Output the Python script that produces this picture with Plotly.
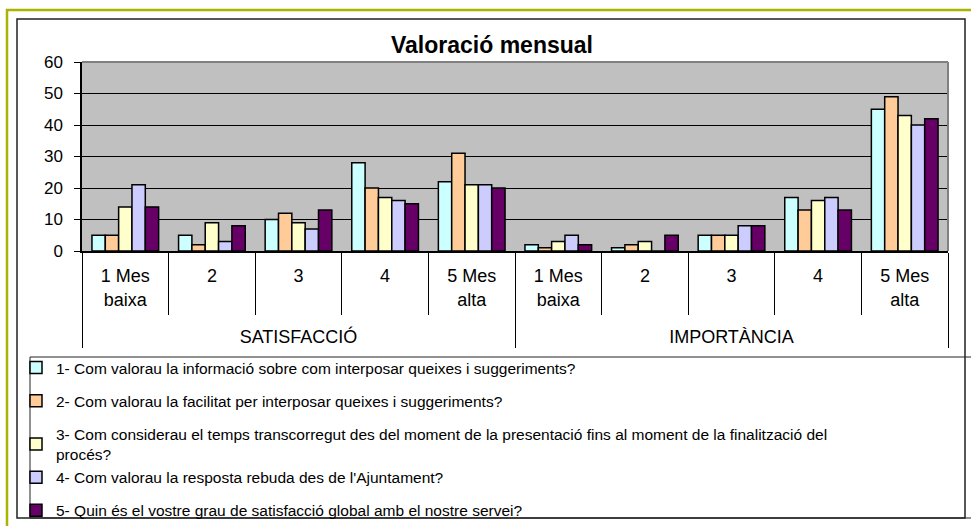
import plotly.graph_objects as go

# ---- data ----
groups = ["SATISFACCIÓ"] * 5 + ["IMPORTÀNCIA"] * 5
levels = ["1 Mes<br>baixa", "2", "3", "4", "5 Mes<br>alta"] * 2

series_names = [
    "1- Com valorau la informació sobre com interposar queixes i suggeriments?",
    "2- Com valorau la facilitat per interposar queixes i suggeriments?",
    "3- Com considerau el temps transcorregut des del moment de la presentació fins al moment de la finalització del<br>procés?",
    "4- Com valorau la resposta rebuda des de l'Ajuntament?",
    "5- Quin és el vostre grau de satisfacció global amb el nostre servei?",
]
q1 = [5, 5, 10, 28, 22, 2, 1, 5, 17, 45]
q2 = [5, 2, 12, 20, 31, 1, 2, 5, 13, 49]
q3 = [14, 9, 9, 17, 21, 3, 3, 5, 16, 43]
q4 = [21, 3, 7, 16, 21, 5, 0, 8, 17, 40]
q5 = [14, 8, 13, 15, 20, 2, 5, 8, 13, 42]
series_values = [q1, q2, q3, q4, q5]
colors = ["#CCFFFF", "#FFCC99", "#FFFFCC", "#CCCCFF", "#660066"]
legend_groups = ["g1", "g2", "g3", "g3", "g5"]

# ---- geometry (pixels) ----
W, H = 971, 526
PL, PR, PT, PB = 82, 948, 62, 251
FONT = "Liberation Sans, Arial, sans-serif"


def fx(px):
    return (px - PL) / (PR - PL)


def fy(py):
    return (PB - py) / (PB - PT)


# inner labels get an extra blank line so the group labels sit lower
levels_shown = [lv + "<br>\u00a0" for lv in levels]

fig = go.Figure()
for name, vals, col, lg in zip(series_names, series_values, colors, legend_groups):
    fig.add_trace(go.Bar(
        x=[groups, levels_shown], y=vals, name=name, legendgroup=lg,
        marker=dict(color=col, line=dict(color="black", width=1.5)),
    ))

shapes = [
    # outer green frame
    dict(type="rect", xref="paper", yref="paper", x0=fx(7), x1=fx(990), y0=fy(545), y1=fy(10),
         line=dict(color="#A9B400", width=2.5), layer="below"),
    # chart frame
    dict(type="rect", xref="paper", yref="paper", x0=fx(17), x1=fx(965), y0=fy(518), y1=fy(19),
         line=dict(color="#222222", width=1.5), layer="below"),
    # legend box
    dict(type="rect", xref="paper", yref="paper", x0=fx(30), x1=fx(990), y0=fy(518), y1=fy(357),
         line=dict(color="#222222", width=1), layer="below"),
    # plot area grey border top/right
    dict(type="line", xref="paper", yref="paper", x0=0, x1=1, y0=1, y1=1,
         line=dict(color="#808080", width=2), layer="above"),
    dict(type="line", xref="paper", yref="paper", x0=1, x1=1, y0=0, y1=1,
         line=dict(color="#808080", width=2), layer="above"),
]

fig.update_layout(
    width=W, height=H,
    margin=dict(l=PL, r=W - PR, t=PT, b=H - PB, autoexpand=False),
    paper_bgcolor="white",
    plot_bgcolor="#C0C0C0",
    barmode="group", bargap=0.23, bargroupgap=0,
    font=dict(family=FONT, size=16, color="black"),
    title=dict(text="<b>Valoració mensual</b>", x=492 / W, xref="container", xanchor="center",
               y=1 - 45 / H, yref="container", yanchor="middle",
               font=dict(family=FONT, size=23, color="black")),
    showlegend=True,
    legend=dict(x=fx(16), xanchor="left", y=fy(351), yanchor="top",
                bgcolor="rgba(0,0,0,0)", borderwidth=0,
                font=dict(family=FONT, size=15.5, color="black"),
                traceorder="grouped", tracegroupgap=10, itemclick=False),
    shapes=shapes,
    xaxis=dict(type="multicategory", showline=True, linecolor="black", linewidth=1.5,
               ticks="outside", ticklen=62, tickcolor="black", tickwidth=1,
               ticklabelstandoff=8,
               showdividers=True, dividercolor="black", dividerwidth=1,
               tickfont=dict(family=FONT, size=18, color="black"), showgrid=False),
    yaxis=dict(range=[0, 60], dtick=10, showline=True, linecolor="black", linewidth=1.5,
               ticks="outside", ticklen=6, tickcolor="black",
               showgrid=True, gridcolor="black", gridwidth=1, zeroline=False,
               ticklabelstandoff=8,
               tickfont=dict(family=FONT, size=17, color="black")),
)

fig.write_html("out.html", config={"displayModeBar": False},
               post_script="document.body.style.margin='0';")
